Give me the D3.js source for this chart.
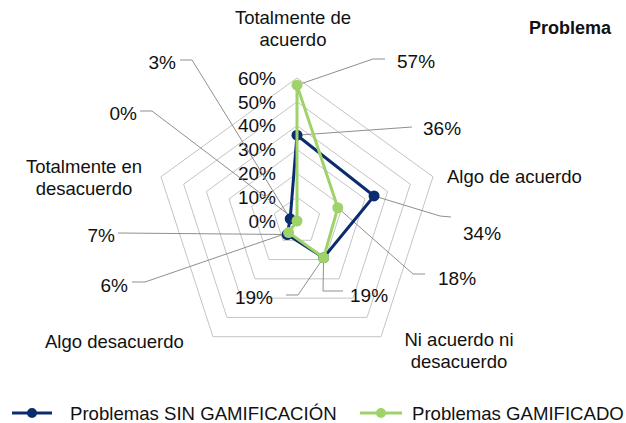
<!DOCTYPE html>
<html><head><meta charset="utf-8">
<script src="https://cdn.jsdelivr.net/npm/d3@7"></script>
<style>
body{margin:0;background:#fff;}
svg text{font-family:"Liberation Sans",Arial,Helvetica,sans-serif;fill:#111;}
</style></head>
<body><svg id="chart" width="626" height="423"></svg>
<script>
// ---- data ----
const categories = [["Totalmente de","acuerdo"],["Algo de acuerdo"],["Ni acuerdo ni","desacuerdo"],["Algo desacuerdo"],["Totalmente en","desacuerdo"]];
const seriesNames = ["Problemas SIN GAMIFICACIÓN","Problemas GAMIFICADO"];
const sinGamificacion = [36,34,19,7,3];
const gamificado = [57,18,19,6,0];
const tickValues = [0,10,20,30,40,50,60];
const title = "Problema";

// ---- layout ----
const cx = 297, cy = 221, R = 143;
const colors = ["#0b2c6e","#9fd36a"];
const numFont = 19, catFont = 18.5, legFont = 18.6;
const svg = d3.select("#chart");
const r = d3.scaleLinear().domain([0,60]).range([0,R]);
const ang = d3.scaleLinear().domain([0,categories.length]).range([0,2*Math.PI]);
const px = (i,v)=> cx + r(v)*Math.sin(ang(i));
const py = (i,v)=> cy - r(v)*Math.cos(ang(i));

// rings
tickValues.filter(t=>t>0).forEach(t=>{
  const pts = categories.map((c,i)=>[px(i,t),py(i,t)]);
  svg.append("polygon").attr("points",pts.map(p=>p.join(",")).join(" "))
    .attr("fill","none").attr("stroke","#c4c4c4").attr("stroke-width",1);
});

// tick labels
svg.selectAll("text.tick").data(tickValues).join("text")
  .attr("class","tick").attr("x",276).attr("y",t=>cy - r(t) + 6.8)
  .attr("text-anchor","end").attr("font-size",numFont).text(t=>t+"%");

// category labels
const catPos = [{x:293,y:24,a:"middle"},{x:447,y:183,a:"start"},{x:459,y:346,a:"middle"},{x:45,y:348,a:"start"},{x:84,y:173,a:"middle"}];
categories.forEach((lines,i)=>{
  const t = svg.append("text").attr("font-size",catFont).attr("text-anchor",catPos[i].a);
  lines.forEach((l,k)=>t.append("tspan").attr("x",catPos[i].x).attr("y",catPos[i].y+k*22).text(l));
});

// data label leaders
const labelLayout = [
  {s:1,c:0,pts:[[373,59],[385,59]],tx:397,ty:61.5,a:"start"},
  {s:0,c:0,pts:[[412,127]],tx:423,ty:128.5,a:"start"},
  {s:0,c:1,pts:[[440,216],[451,217]],tx:463,ty:233,a:"start"},
  {s:1,c:1,pts:[[413,274],[425,274]],tx:438,ty:278,a:"start"},
  {s:1,c:2,pts:[[323,291],[343,291]],tx:350,ty:295,a:"start"},
  {s:0,c:2,pts:[[298,295],[286,295]],tx:273,ty:297,a:"end"},
  {s:0,c:3,pts:[[118,233]],tx:115,ty:235,a:"end"},
  {s:1,c:3,pts:[[145,282],[132,282]],tx:128,ty:285,a:"end"},
  {s:1,c:4,pts:[[152,111],[140,111]],tx:137,ty:113,a:"end"},
  {s:0,c:4,pts:[[192,60],[180,60]],tx:176,ty:62,a:"end"}
];
const allSeries = [sinGamificacion, gamificado];
labelLayout.forEach(L=>{
  const v = allSeries[L.s][L.c];
  const line = [[px(L.c,v),py(L.c,v)]].concat(L.pts);
  svg.append("path").attr("d",d3.line()(line)).attr("fill","none")
    .attr("stroke","#8f8f8f").attr("stroke-width",1);
  svg.append("text").attr("x",L.tx).attr("y",L.ty+6.8).attr("text-anchor",L.a)
    .attr("font-size",numFont).text(v+"%");
});

// series
allSeries.forEach((vals,s)=>{
  const pts = vals.map((v,i)=>[px(i,v),py(i,v)]);
  svg.append("path").attr("d",d3.line().curve(d3.curveLinearClosed)(pts))
    .attr("fill","none").attr("stroke",colors[s]).attr("stroke-width",3).attr("stroke-linejoin","round");
  svg.selectAll(null).data(pts).join("circle").attr("cx",d=>d[0]).attr("cy",d=>d[1])
    .attr("r",5.5).attr("fill",colors[s]);
});

// title
svg.append("text").attr("x",611).attr("y",34).attr("text-anchor","end")
  .attr("font-size",18).attr("font-weight","bold").text(title);

// legend
const legX = [[12,52,70],[360,402,412]];
seriesNames.forEach((n,s)=>{
  const [x0,x1,tx] = legX[s];
  svg.append("line").attr("x1",x0).attr("x2",x1).attr("y1",413).attr("y2",413)
    .attr("stroke",colors[s]).attr("stroke-width",3);
  svg.append("circle").attr("cx",(x0+x1)/2).attr("cy",413).attr("r",5).attr("fill",colors[s]);
  svg.append("text").attr("x",tx).attr("y",419.5).attr("font-size",legFont).text(n);
});
</script></body></html>
